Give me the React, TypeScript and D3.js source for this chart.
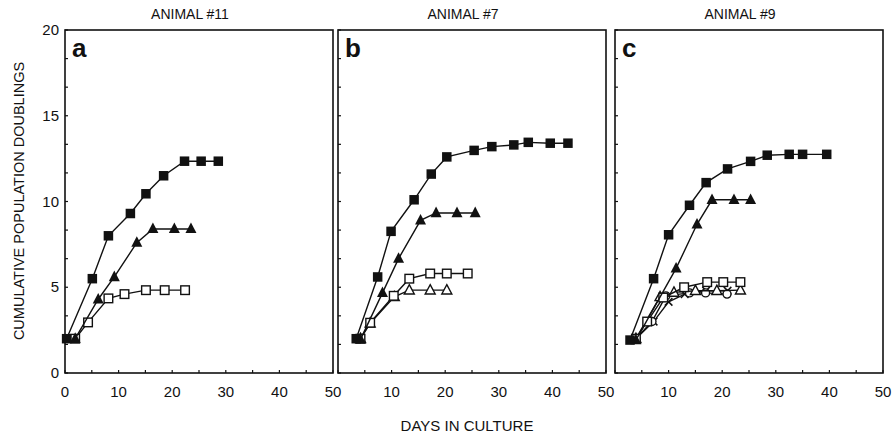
import React from "react";
import * as d3 from "d3";

type Pt = [number, number];

// ---- data (day, cumulative population doublings) ----
const panelTitles = ["ANIMAL #11", "ANIMAL #7", "ANIMAL #9"];
const panelLetters = ["a", "b", "c"];
const yTicks = [0, 5, 10, 15, 20];
const xTickLabelsA = [0, 10, 20, 30, 40, 50];
const xTickLabelsBC = [10, 20, 30, 40, 50];

// Panel a
const aFilledSquares: Pt[] = [[0.3, 2], [5.1, 5.5], [8.1, 8.0], [12.2, 9.3], [15.1, 10.45], [18.4, 11.5], [22.3, 12.35], [25.4, 12.35], [28.6, 12.35]];
const aFilledTriangles: Pt[] = [[1.9, 2], [6.2, 4.3], [9.2, 5.6], [13.4, 7.6], [16.4, 8.4], [20.4, 8.4], [23.5, 8.4]];
const aOpenSquares: Pt[] = [[1.9, 2], [4.3, 2.95], [8.1, 4.35], [11.1, 4.6], [15.1, 4.83], [18.6, 4.83], [22.4, 4.83]];

// Panel b
const bFilledSquares: Pt[] = [[3.4, 2], [7.4, 5.6], [9.9, 8.26], [14.2, 10.1], [17.4, 11.6], [20.3, 12.6], [25.4, 12.98], [28.7, 13.2], [32.8, 13.3], [35.5, 13.45], [39.6, 13.4], [42.9, 13.4]];
const bFilledTriangles: Pt[] = [[4.2, 1.96], [8.3, 4.67], [11.3, 6.67], [15.4, 8.9], [18.3, 9.33], [22.2, 9.33], [25.6, 9.33]];
const bOpenSquares: Pt[] = [[4.2, 2], [6.0, 2.93], [10.4, 4.5], [13.3, 5.5], [17.2, 5.8], [20.3, 5.8], [24.2, 5.8]];
const bOpenTriangles: Pt[] = [[4.2, 2], [6.0, 2.9], [10.5, 4.44], [13.3, 4.83], [17.2, 4.83], [20.3, 4.83]];

// Panel c
const cFilledSquares: Pt[] = [[2.8, 1.92], [7.2, 5.5], [10.0, 8.06], [13.9, 9.78], [17.0, 11.1], [21.0, 11.9], [25.3, 12.34], [28.4, 12.7], [32.5, 12.75], [35.0, 12.75], [39.5, 12.75]];
const cFilledTriangles: Pt[] = [[3.9, 1.92], [11.4, 6.1], [15.3, 8.67], [18.1, 10.1], [22.2, 10.1], [25.3, 10.1]];
const cOpenSquares: Pt[] = [[3.9, 2], [6.0, 3], [9.0, 4.4], [12.9, 5.0], [17.2, 5.3], [20.2, 5.3], [23.4, 5.3]];
const cOpenCircles: Pt[] = [[3.9, 2], [6.9, 3], [9.5, 4.5], [13.9, 4.67], [16.9, 4.67], [20.9, 4.6]];
const cOpenTriangles: Pt[] = [[3.9, 2], [8.4, 4.44], [11.0, 4.7], [15.0, 4.8], [19.0, 4.8], [23.4, 4.83]];
const cCrosses: Pt[] = [[3.9, 2], [7.2, 3], [10.0, 4.15], [13.0, 4.6], [17.0, 4.8], [21.0, 4.8]];

type Marker = "fsq" | "ftri" | "osq" | "otri" | "ocir" | "cross";
type Series = { pts: Pt[]; marker: Marker };

const panels: { series: Series[] }[] = [
  {
    series: [
      { pts: aOpenSquares, marker: "osq" },
      { pts: aFilledTriangles, marker: "ftri" },
      { pts: aFilledSquares, marker: "fsq" },
    ],
  },
  {
    series: [
      { pts: bOpenTriangles, marker: "otri" },
      { pts: bOpenSquares, marker: "osq" },
      { pts: bFilledTriangles, marker: "ftri" },
      { pts: bFilledSquares, marker: "fsq" },
    ],
  },
  {
    series: [
      { pts: cCrosses, marker: "cross" },
      { pts: cOpenCircles, marker: "ocir" },
      { pts: cOpenTriangles, marker: "otri" },
      { pts: cOpenSquares, marker: "osq" },
      { pts: cFilledTriangles, marker: "ftri" },
      { pts: cFilledSquares, marker: "fsq" },
    ],
  },
];

const W = 893;
const H = 436;
const panelBoxes = [
  { left: 65, right: 333 },
  { left: 338, right: 606 },
  { left: 615, right: 883 },
];
const TOP = 30;
const BOTTOM = 373;
const FONT = "Liberation Sans, Arial, Helvetica, sans-serif";

function MarkerShape({ m, x, y }: { m: Marker; x: number; y: number }) {
  const s = 9.5;
  const t = 11;
  switch (m) {
    case "fsq":
      return <rect x={x - s / 2} y={y - s / 2} width={s} height={s} fill="#111" />;
    case "osq":
      return <rect x={x - 4.3} y={y - 4.3} width={8.6} height={8.6} fill="#fff" stroke="#111" strokeWidth={1.4} />;
    case "ftri":
      return <path d={`M${x},${y - t * 0.58}L${x + t / 2},${y + t * 0.38}L${x - t / 2},${y + t * 0.38}Z`} fill="#111" />;
    case "otri":
      return <path d={`M${x},${y - 5.5}L${x + 5},${y + 3.8}L${x - 5},${y + 3.8}Z`} fill="#fff" stroke="#111" strokeWidth={1.4} />;
    case "ocir":
      return <circle cx={x} cy={y} r={4} fill="#fff" stroke="#111" strokeWidth={1.4} />;
    case "cross":
      return <path d={`M${x - 3.8},${y - 3.8}L${x + 3.8},${y + 3.8}M${x + 3.8},${y - 3.8}L${x - 3.8},${y + 3.8}`} stroke="#111" strokeWidth={1.5} />;
  }
}

export default function App() {
  const y = d3.scaleLinear().domain([0, 20]).range([BOTTOM, TOP]);
  const yMinor = d3.range(0, 20.001, 5 / 3);
  const xMinor = d3.range(0, 50.001, 5);

  return (
    <svg width={W} height={H} style={{ display: "block", position: "absolute", left: 0, top: 0 }} fontFamily={FONT}>
      <rect width={W} height={H} fill="#fff" />
      {panels.map((p, i) => {
        const box = panelBoxes[i];
        const x = d3.scaleLinear().domain([0, 50]).range([box.left, box.right]);
        const line = d3
          .line<Pt>()
          .x((d) => x(d[0]))
          .y((d) => y(d[1]));
        const xLabels = i === 0 ? xTickLabelsA : xTickLabelsBC;
        const cx = (box.left + box.right) / 2;
        return (
          <g key={i}>
            <text x={cx - 9} y={19} fontSize={14} textAnchor="middle" fill="#111">
              {panelTitles[i]}
            </text>
            <rect x={box.left} y={TOP} width={box.right - box.left} height={BOTTOM - TOP} fill="none" stroke="#111" strokeWidth={1.6} />
            {yMinor.map((v, k) => (
              <line key={"yt" + k} x1={box.left} x2={box.left + 3} y1={y(v)} y2={y(v)} stroke="#111" strokeWidth={1.2} />
            ))}
            {xMinor.map((v, k) => (
              <line key={"xt" + k} x1={x(v)} x2={x(v)} y1={BOTTOM} y2={BOTTOM - 3} stroke="#111" strokeWidth={1.2} />
            ))}
            {xLabels.map((v) => (
              <text key={"xl" + v} x={x(v)} y={397} fontSize={15} textAnchor="middle" fill="#111">
                {v}
              </text>
            ))}
            {i === 0 &&
              yTicks.map((v) => (
                <text key={"yl" + v} x={box.left - 6} y={y(v) + 5} fontSize={15} textAnchor="end" fill="#111">
                  {v}
                </text>
              ))}
            <text x={box.left + 7} y={57} fontSize={26} fontWeight="bold" fill="#111">
              {panelLetters[i]}
            </text>
            {p.series.map((s, k) => (
              <g key={"s" + k}>
                <path d={line(s.pts) || ""} fill="none" stroke="#111" strokeWidth={1.4} />
                {s.pts.map((d, j) => (
                  <MarkerShape key={j} m={s.marker} x={x(d[0])} y={y(d[1])} />
                ))}
              </g>
            ))}
          </g>
        );
      })}
      <text transform="translate(23.5,201) rotate(-90)" fontSize={14.5} textAnchor="middle" fill="#111">
        CUMULATIVE POPULATION DOUBLINGS
      </text>
      <text x={467} y={431} fontSize={15} textAnchor="middle" fill="#111">
        DAYS IN CULTURE
      </text>
    </svg>
  );
}
